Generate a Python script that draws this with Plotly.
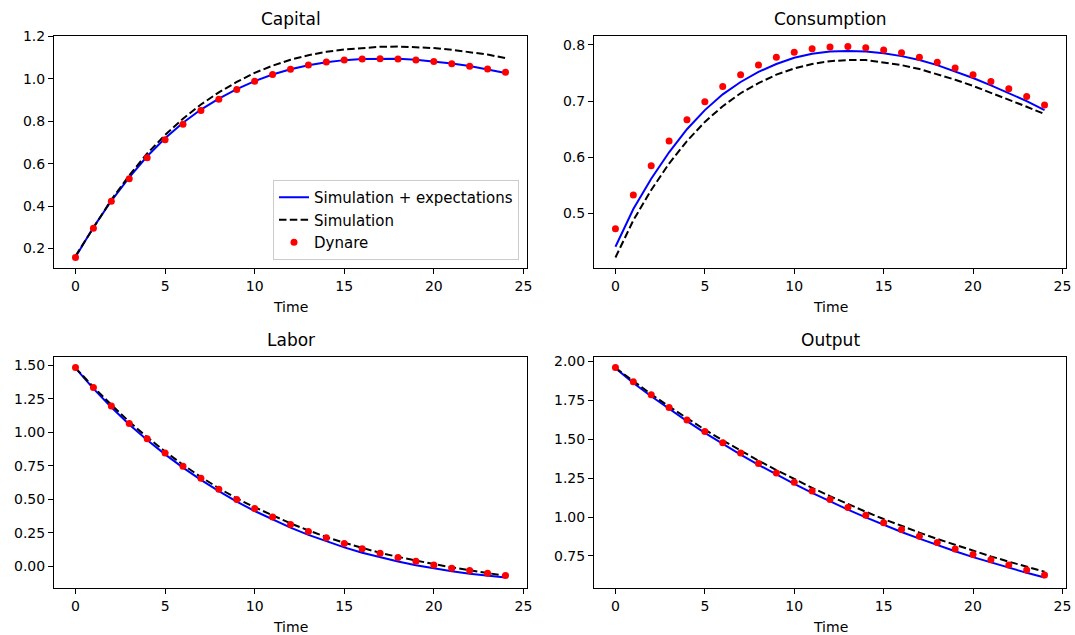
import plotly.graph_objects as go

t = list(range(25))

capital_sim_exp = [0.160, 0.300, 0.425, 0.535, 0.635, 0.720, 0.793, 0.855, 0.907, 0.951, 0.989, 1.020, 1.045, 1.064, 1.078, 1.088, 1.093, 1.095, 1.094, 1.090, 1.082, 1.072, 1.060, 1.045, 1.027]
capital_sim = [0.165, 0.300, 0.430, 0.545, 0.648, 0.735, 0.812, 0.879, 0.936, 0.985, 1.028, 1.062, 1.090, 1.111, 1.127, 1.138, 1.146, 1.151, 1.152, 1.150, 1.145, 1.137, 1.127, 1.114, 1.098]
capital_dyn = [0.158, 0.296, 0.423, 0.529, 0.628, 0.713, 0.786, 0.850, 0.904, 0.949, 0.988, 1.020, 1.045, 1.065, 1.079, 1.089, 1.093, 1.095, 1.093, 1.089, 1.081, 1.071, 1.059, 1.046, 1.031]

cons_sim_exp = [0.441, 0.508, 0.562, 0.609, 0.650, 0.684, 0.712, 0.734, 0.752, 0.766, 0.777, 0.784, 0.788, 0.789, 0.788, 0.785, 0.780, 0.773, 0.764, 0.753, 0.741, 0.728, 0.714, 0.700, 0.684]
cons_sim = [0.422, 0.488, 0.542, 0.589, 0.629, 0.663, 0.691, 0.714, 0.732, 0.747, 0.758, 0.766, 0.771, 0.773, 0.773, 0.769, 0.764, 0.757, 0.748, 0.738, 0.727, 0.715, 0.702, 0.690, 0.677]
cons_dyn = [0.473, 0.533, 0.585, 0.629, 0.667, 0.699, 0.726, 0.747, 0.764, 0.778, 0.787, 0.793, 0.796, 0.797, 0.795, 0.791, 0.786, 0.778, 0.769, 0.759, 0.747, 0.735, 0.722, 0.708, 0.693]

labor_sim_exp = [1.478, 1.325, 1.186, 1.058, 0.942, 0.835, 0.736, 0.645, 0.561, 0.483, 0.412, 0.347, 0.288, 0.234, 0.185, 0.141, 0.101, 0.066, 0.035, 0.007, -0.017, -0.038, -0.056, -0.071, -0.084]
labor_sim = [1.480, 1.338, 1.205, 1.078, 0.963, 0.856, 0.757, 0.666, 0.582, 0.506, 0.440, 0.378, 0.320, 0.267, 0.218, 0.175, 0.136, 0.100, 0.070, 0.042, 0.016, -0.008, -0.030, -0.051, -0.072]
labor_dyn = [1.483, 1.334, 1.195, 1.066, 0.952, 0.845, 0.746, 0.656, 0.574, 0.498, 0.430, 0.368, 0.311, 0.259, 0.212, 0.170, 0.130, 0.097, 0.065, 0.037, 0.010, -0.015, -0.032, -0.052, -0.069]

output_sim_exp = [1.958, 1.862, 1.777, 1.696, 1.617, 1.542, 1.470, 1.402, 1.336, 1.273, 1.213, 1.155, 1.100, 1.048, 0.998, 0.950, 0.904, 0.861, 0.819, 0.780, 0.742, 0.707, 0.673, 0.641, 0.611]
output_sim = [1.960, 1.872, 1.790, 1.711, 1.635, 1.562, 1.493, 1.427, 1.363, 1.302, 1.244, 1.188, 1.134, 1.083, 1.034, 0.987, 0.942, 0.900, 0.859, 0.820, 0.783, 0.747, 0.713, 0.680, 0.648]
output_dyn = [1.962, 1.870, 1.787, 1.704, 1.625, 1.550, 1.478, 1.412, 1.345, 1.284, 1.224, 1.168, 1.113, 1.062, 1.011, 0.964, 0.919, 0.876, 0.836, 0.795, 0.759, 0.725, 0.691, 0.659, 0.627]

titles = ["Capital", "Consumption", "Labor", "Output"]
series = [
    (capital_sim_exp, capital_sim, capital_dyn),
    (cons_sim_exp, cons_sim, cons_dyn),
    (labor_sim_exp, labor_sim, labor_dyn),
    (output_sim_exp, output_sim, output_dyn),
]
ytick_step = [0.2, 0.1, 0.25, 0.25]
ytick_fmt = [".1f", ".1f", ".2f", ".2f"]

W, H = 1075, 635
xdom = [[54 / W, 527 / W], [594 / W, 1066 / W]]
ydom = [[1 - 268 / H, 1 - 36 / H], [1 - 588 / H, 1 - 357 / H]]

FONT = "DejaVu Sans"
fig = go.Figure()
annotations = []

for i, (title, (se, s, d)) in enumerate(zip(titles, series)):
    row, col = divmod(i, 2)
    n = i + 1
    xa = "x" if n == 1 else f"x{n}"
    ya = "y" if n == 1 else f"y{n}"
    show = (i == 0)
    fig.add_trace(go.Scatter(x=t, y=se, mode="lines", name="Simulation + expectations",
                             line=dict(color="blue", width=2), xaxis=xa, yaxis=ya,
                             showlegend=show, legendgroup="a"))
    fig.add_trace(go.Scatter(x=t, y=s, mode="lines", name="Simulation",
                             line=dict(color="black", width=2, dash="7.5px,3.3px"), xaxis=xa, yaxis=ya,
                             showlegend=show, legendgroup="b"))
    fig.add_trace(go.Scatter(x=t, y=d, mode="markers", name="Dynare",
                             marker=dict(color="red", size=7), xaxis=xa, yaxis=ya,
                             showlegend=show, legendgroup="c"))
    allv = se + s + d
    lo, hi = min(allv), max(allv)
    pad = 0.05 * (hi - lo)
    axis_common = dict(showline=True, linecolor="black", linewidth=1, mirror=True,
                       ticks="outside", ticklen=5, tickcolor="black", showgrid=False,
                       zeroline=False, automargin=False,
                       tickfont=dict(family=FONT, size=14, color="black"))
    fig.layout[("xaxis" if n == 1 else f"xaxis{n}")] = dict(
        domain=xdom[col], anchor=ya, range=[-1.2, 25.2], tick0=0, dtick=5, **axis_common)
    fig.layout[("yaxis" if n == 1 else f"yaxis{n}")] = dict(
        domain=ydom[row], anchor=xa, range=[lo - pad, hi + pad], tick0=0,
        dtick=ytick_step[i], tickformat=ytick_fmt[i], **axis_common)
    xc = (xdom[col][0] + xdom[col][1]) / 2
    annotations.append(dict(text=title, x=xc, y=ydom[row][1] + 5 / H, xref="paper", yref="paper",
                            xanchor="center", yanchor="bottom", showarrow=False,
                            font=dict(family=FONT, size=17, color="black")))
    annotations.append(dict(text="Time", x=xc, y=ydom[row][0] - 29 / H, xref="paper", yref="paper",
                            xanchor="center", yanchor="top", showarrow=False,
                            font=dict(family=FONT, size=14, color="black")))

fig.update_layout(
    width=W, height=H, margin=dict(l=0, r=0, t=0, b=0, pad=0, autoexpand=False),
    paper_bgcolor="white", plot_bgcolor="white",
    font=dict(family=FONT, size=14, color="black"),
    annotations=annotations,
    legend=dict(x=519 / W, y=1 - 260 / H, xanchor="right", yanchor="bottom",
                bgcolor="rgba(255,255,255,0.8)", bordercolor="#cccccc", borderwidth=1,
                font=dict(family=FONT, size=15, color="black"), tracegroupgap=0),
)

fig.write_html("out.html", post_script="document.body.style.margin='0';")
